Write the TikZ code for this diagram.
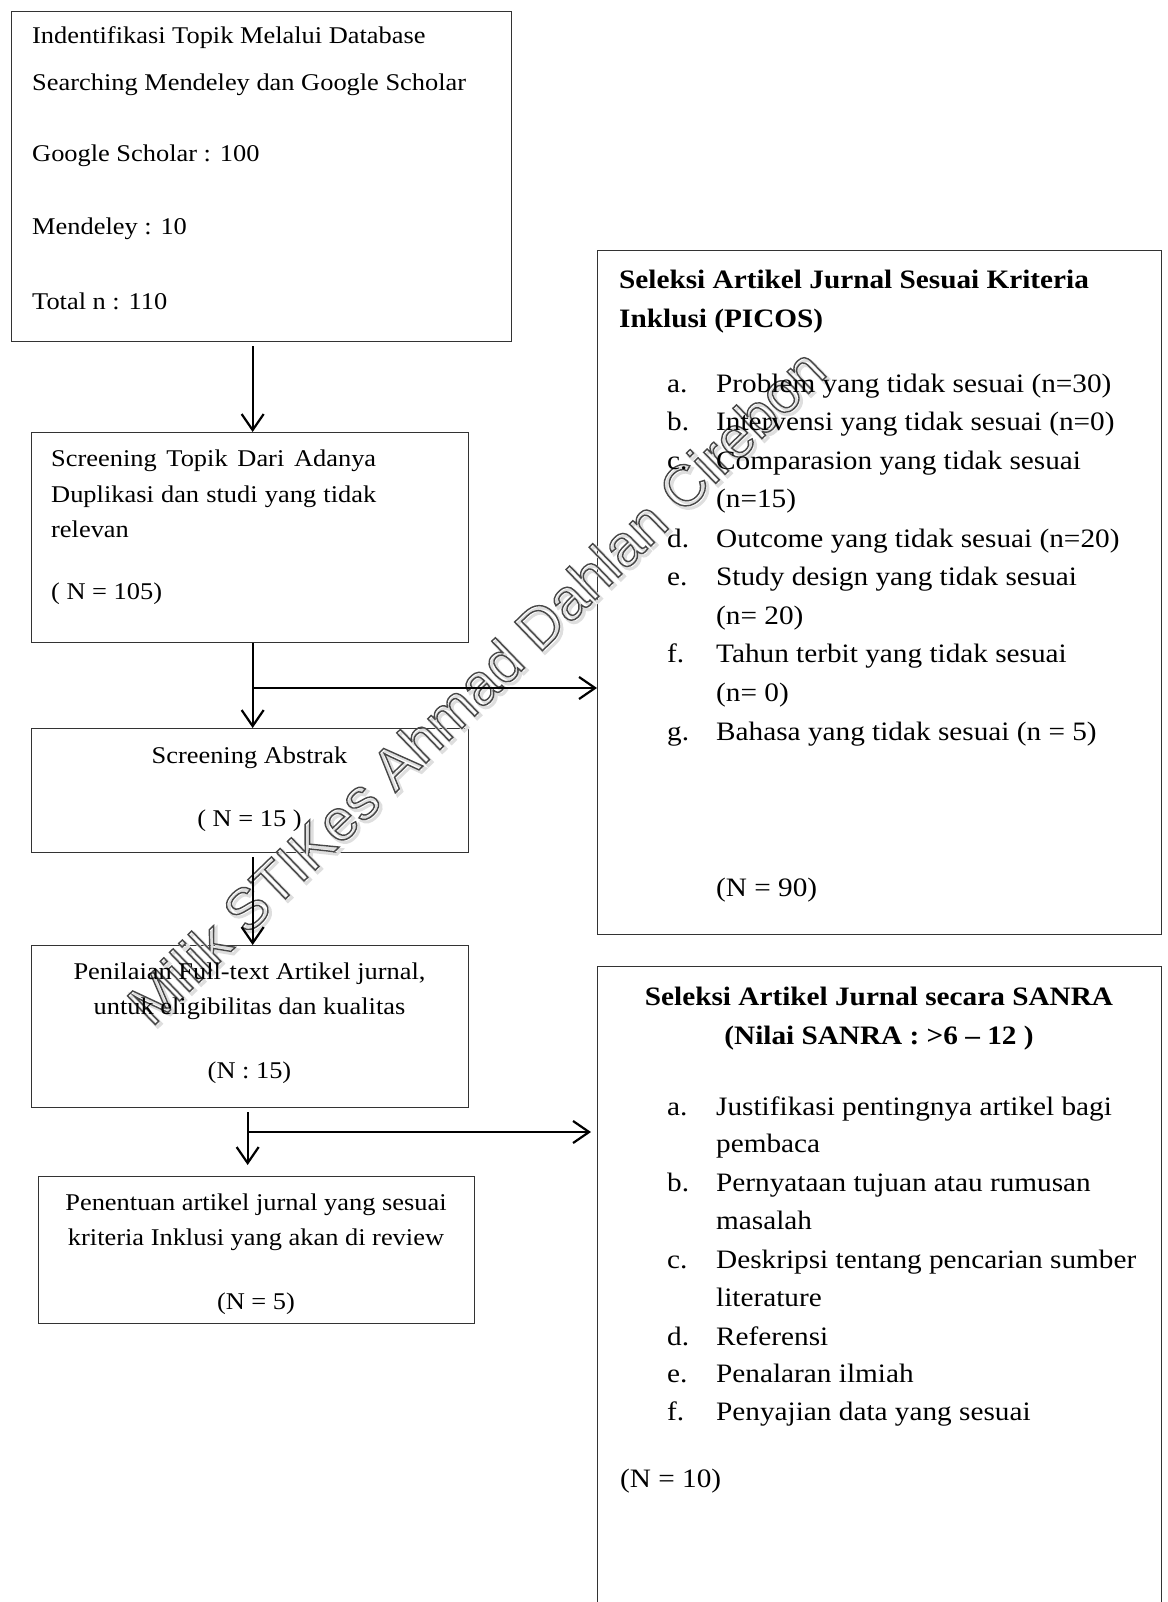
\documentclass[tikz,border=0pt]{standalone}
\usepackage{fontspec}
\setmainfont{Liberation Serif}[FakeStretch=1.1]
\newfontfamily\wmfont{Liberation Sans}
\usetikzlibrary{arrows.meta}
\tikzset{
  box/.style={draw=black!80, line width=1.3pt, inner sep=0pt, anchor=north west},
  lt/.style={font=\fontsize{24}{28}\selectfont, inner sep=0pt, anchor=base west},
  ltc/.style={lt, anchor=base},
  rt/.style={font=\fontsize{26.6}{31}\selectfont, inner sep=0pt, anchor=base west},
  rtb/.style={font=\fontsize{26.6}{31}\selectfont\bfseries, inner sep=0pt, anchor=base west},
  rtbc/.style={rtb, anchor=base},
  arr/.style={line width=2.2pt, -{Straight Barb[length=16pt,width=22pt,line width=2.2pt]}},
  wmark/.style={rotate=44, font=\wmfont\fontsize{58}{62}\selectfont, inner sep=0pt},
}
\newcommand{\wmtext}[1]{\special{pdf:literal direct 1 Tr #1 w}Milik STIKes Ahmad Dahlan Cirebon\special{pdf:literal direct 0 Tr}}
\begin{document}
\begin{tikzpicture}[x=1pt,y=-1pt]
\clip (0,0) rectangle (1167,1602);
\fill[white] (0,0) rectangle (1167,1602);
% boxes
\node[box, minimum width=500pt, minimum height=330pt] (b1) at (11,11) {};
\node[box, minimum width=437pt, minimum height=210pt] (b2) at (31,432) {};
\node[box, minimum width=437pt, minimum height=124pt] (b3) at (31,728) {};
\node[box, minimum width=437pt, minimum height=162pt] (b4) at (31,945) {};
\node[box, minimum width=436pt, minimum height=147pt] (b5) at (38,1176) {};
\node[box, minimum width=564pt, minimum height=684pt] (r1) at (597,250) {};
\node[box, minimum width=564pt, minimum height=700pt] (r2) at (597,966) {};
% watermark (soft shadow + outlined letters), drawn under the texts
\node[wmark, text=black!13] (wmshadow) at (478.5,688.5) {\wmtext{3}};
\node[wmark, text=black!72] (wm) at (476,686) {\wmtext{1.4}};
% box 1
\node[lt] (t11) at (32,44) {Indentifikasi Topik Melalui Database};
\node[lt] (t12) at (32,91) {Searching Mendeley dan Google Scholar};
\node[lt] (t13) at (32,162) {Google Scholar : 100};
\node[lt] (t14) at (32,235) {Mendeley : 10};
\node[lt] (t15) at (32,309) {Total n : 110};
% box 2
\node[lt] (t21) at (51,466) {\makebox[325pt][s]{Screening Topik Dari Adanya}};
\node[lt] (t22) at (51,502) {\makebox[325pt][s]{Duplikasi dan studi yang tidak}};
\node[lt] (t23) at (51,537) {relevan};
\node[lt] (t24) at (51,599) {( N = 105)};
% box 3
\node[ltc] (t31) at (249.5,763) {Screening Abstrak};
\node[ltc] (t32) at (249.5,826) {( N = 15 )};
% box 4
\node[ltc] (t41) at (249.5,979) {Penilaian Full-text Artikel jurnal,};
\node[ltc] (t42) at (249.5,1014) {untuk eligibilitas dan kualitas};
\node[ltc] (t43) at (249.5,1078) {(N : 15)};
% box 5
\node[ltc] (t51) at (256,1210) {Penentuan artikel jurnal yang sesuai};
\node[ltc] (t52) at (256,1245) {kriteria Inklusi yang akan di review};
\node[ltc] (t53) at (256,1309) {(N = 5)};
% right box 1
\node[rtb] (h11) at (619,289) {Seleksi Artikel Jurnal Sesuai Kriteria};
\node[rtb] (h12) at (619,327) {Inklusi (PICOS)};
\node[rt] (la1) at (667,392) {a.};
\node[rt] (ia1) at (716,392) {Problem yang tidak sesuai (n=30)};
\node[rt] (la2) at (667,430.5) {b.};
\node[rt] (ia2) at (716,430.5) {Intervensi yang tidak sesuai (n=0)};
\node[rt] (la3) at (667,469) {c.};
\node[rt] (ia3) at (716,469) {Comparasion yang tidak sesuai};
\node[rt] (ia3b) at (716,507.5) {(n=15)};
\node[rt] (la4) at (667,547) {d.};
\node[rt] (ia4) at (716,547) {Outcome yang tidak sesuai (n=20)};
\node[rt] (la5) at (667,585) {e.};
\node[rt] (ia5) at (716,585) {Study design yang tidak sesuai};
\node[rt] (ia5b) at (716,624) {(n= 20)};
\node[rt] (la6) at (667,662.5) {f.};
\node[rt] (ia6) at (716,662.5) {Tahun terbit yang tidak sesuai};
\node[rt] (ia6b) at (716,701) {(n= 0)};
\node[rt] (la7) at (667,740) {g.};
\node[rt] (ia7) at (716,740) {Bahasa yang tidak sesuai (n = 5)};
\node[rt] (n90) at (716,896) {(N = 90)};
% right box 2
\node[rtbc] (h21) at (879,1005) {Seleksi Artikel Jurnal secara SANRA};
\node[rtbc] (h22) at (879,1044) {(Nilai SANRA : >6 – 12 )};
\node[rt] (lb1) at (667,1115) {a.};
\node[rt] (ib1) at (716,1115) {Justifikasi pentingnya artikel bagi};
\node[rt] (ib1b) at (716,1152.5) {pembaca};
\node[rt] (lb2) at (667,1191) {b.};
\node[rt] (ib2) at (716,1191) {Pernyataan tujuan atau rumusan};
\node[rt] (ib2b) at (716,1229) {masalah};
\node[rt] (lb3) at (667,1268) {c.};
\node[rt] (ib3) at (716,1268) {Deskripsi tentang pencarian sumber};
\node[rt] (ib3b) at (716,1306) {literature};
\node[rt] (lb4) at (667,1345) {d.};
\node[rt] (ib4) at (716,1345) {Referensi};
\node[rt] (lb5) at (667,1382) {e.};
\node[rt] (ib5) at (716,1382) {Penalaran ilmiah};
\node[rt] (lb6) at (667,1420) {f.};
\node[rt] (ib6) at (716,1420) {Penyajian data yang sesuai};
\node[rt] (n10) at (620,1487) {(N = 10)};
% connectors
\draw[arr, shorten <=4pt] ([xshift=2.5pt]b2.north |- b1.south) -- ([xshift=2.5pt]b2.north);
\draw[arr] ([xshift=2.5pt]b2.south) -- ([xshift=2.5pt]b3.north);
\coordinate (j1) at ([xshift=2.5pt]b2.south |- 0,688);
\draw[arr] (j1) -- (j1 -| r1.west);
\draw[arr, shorten <=4pt] ([xshift=2.5pt]b3.south) -- ([xshift=2.5pt]b4.north);
\draw[arr, shorten <=4pt, shorten >=11pt] ([xshift=-2.5pt]b4.south) -- ([xshift=-2.5pt]b4.south |- b5.north);
\coordinate (j2) at ([xshift=-2.5pt]b4.south |- 0,1132);
\draw[arr, shorten >=6pt] (j2) -- (j2 -| r2.west);
\end{tikzpicture}
\end{document}
